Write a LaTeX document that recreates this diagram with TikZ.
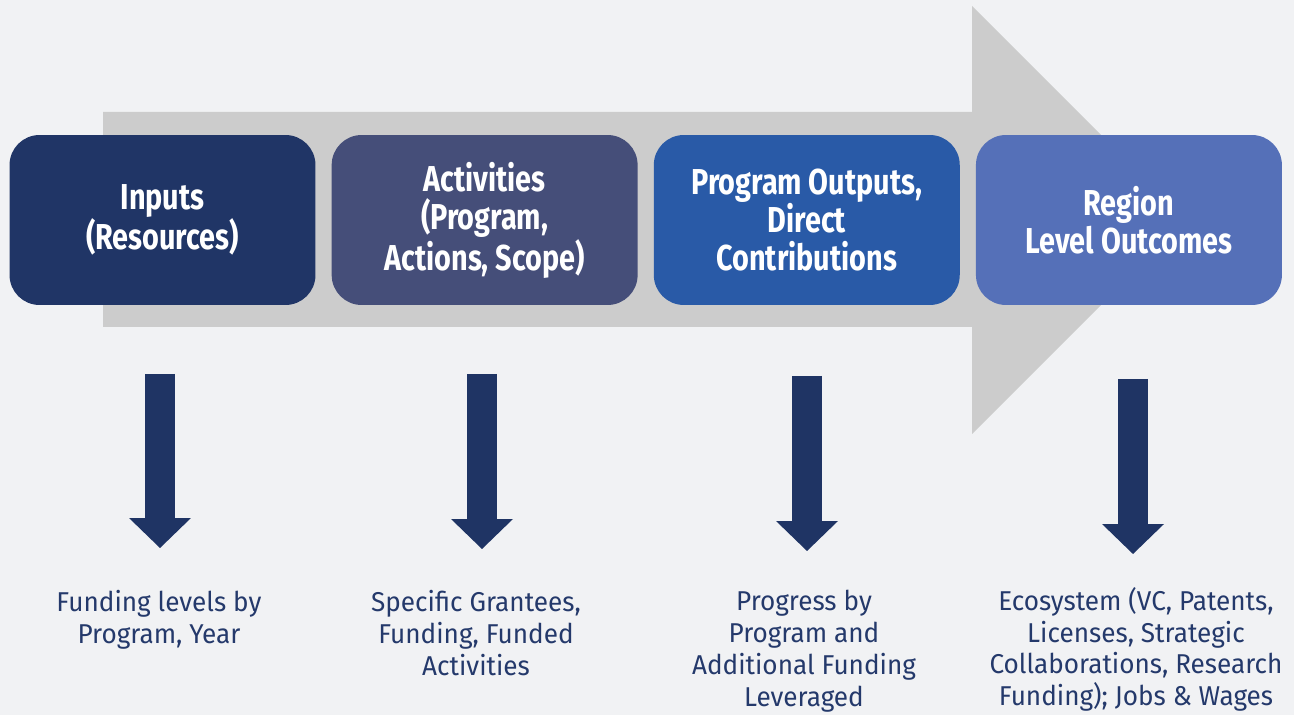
\documentclass[tikz,border=0pt]{standalone}
\usepackage{fontspec}
\setmainfont{Fira Sans}[FakeStretch=0.96]
\newfontfamily\headfont{Fira Sans}[FakeStretch=0.8]
\usepackage{xcolor}
\usetikzlibrary{positioning, arrows.meta}

\definecolor{pagebg}{HTML}{F1F2F4}
\definecolor{bandgray}{HTML}{CCCCCC}
\definecolor{stageA}{HTML}{203566}
\definecolor{stageB}{HTML}{454E79}
\definecolor{stageC}{HTML}{295AA7}
\definecolor{stageD}{HTML}{5570B8}
\definecolor{flownavy}{HTML}{1F3464}
\definecolor{notenavy}{HTML}{24396B}

\begin{document}
\begin{tikzpicture}[
    x=0.02cm, y=-0.02cm,
    node distance=0.31cm,
    stage/.style={rounded corners=0.6cm, minimum width=6.12cm, minimum height=3.4cm,
                  align=center, text=white, inner sep=0pt,
                  font=\headfont\bfseries\fontsize{20.5}{21.8}\selectfont},
    note/.style={align=center, text=notenavy, anchor=north, inner sep=0pt,
                 font=\fontsize{15.5}{18.1}\selectfont},
    flow/.style={draw=flownavy, line width=0.6cm,
                 -{Triangle[width=1.24cm, length=0.6cm, line width=0pt]}},
]

% --- Page and big arrow ---
\fill[pagebg] (0,0) rectangle (1294,715);
\useasboundingbox (0,0) rectangle (1294,715);
\fill[bandgray] (103,112) -- (972,112) -- (972,6) -- (1186,220)
    -- (972,434) -- (972,327) -- (103,327) -- cycle;

% --- Stages ---
\node[stage, fill=stageA] (inputs) at (162.5,220) {Inputs\\(Resources)};
\node[stage, fill=stageB, right=of inputs] (activities)
    {Activities\\(Program,\\Actions, Scope)};
\node[stage, fill=stageC, right=of activities] (outputs)
    {Program Outputs,\\Direct\\Contributions};
\node[stage, fill=stageD, right=of outputs] (outcomes)
    {Region\\Level Outcomes};

% --- Arrow ends ---
\coordinate (inputs-top) at (160,374);
\coordinate (inputs-tip) at (160,548);
\coordinate (activities-top) at (482,374);
\coordinate (activities-tip) at (482,549);
\coordinate (outputs-top) at (807,376);
\coordinate (outputs-tip) at (807,551);
\coordinate (outcomes-top) at (1133,379);
\coordinate (outcomes-tip) at (1133,554);

% --- Down arrows ---
\draw[flow] (inputs-top) -- (inputs-tip);
\draw[flow] (activities-top) -- (activities-tip);
\draw[flow] (outputs-top) -- (outputs-tip);
\draw[flow] (outcomes-top) -- (outcomes-tip);

% --- Measures ---
\node[note] (inputs-note) at (159,590) {Funding levels by\\Program, Year};
\node[note] (activities-note) at (476,590)
    {Specific Grantees,\\Funding, Funded\\Activities};
\node[note] (outputs-note) at (804,590)
    {Progress by\\Program and\\Additional Funding\\Leveraged};
\node[note] (outcomes-note) at (1136,587)
    {Ecosystem (VC, Patents,\\Licenses, Strategic\\Collaborations, Research\\Funding); Jobs \& Wages};

\end{tikzpicture}
\end{document}
